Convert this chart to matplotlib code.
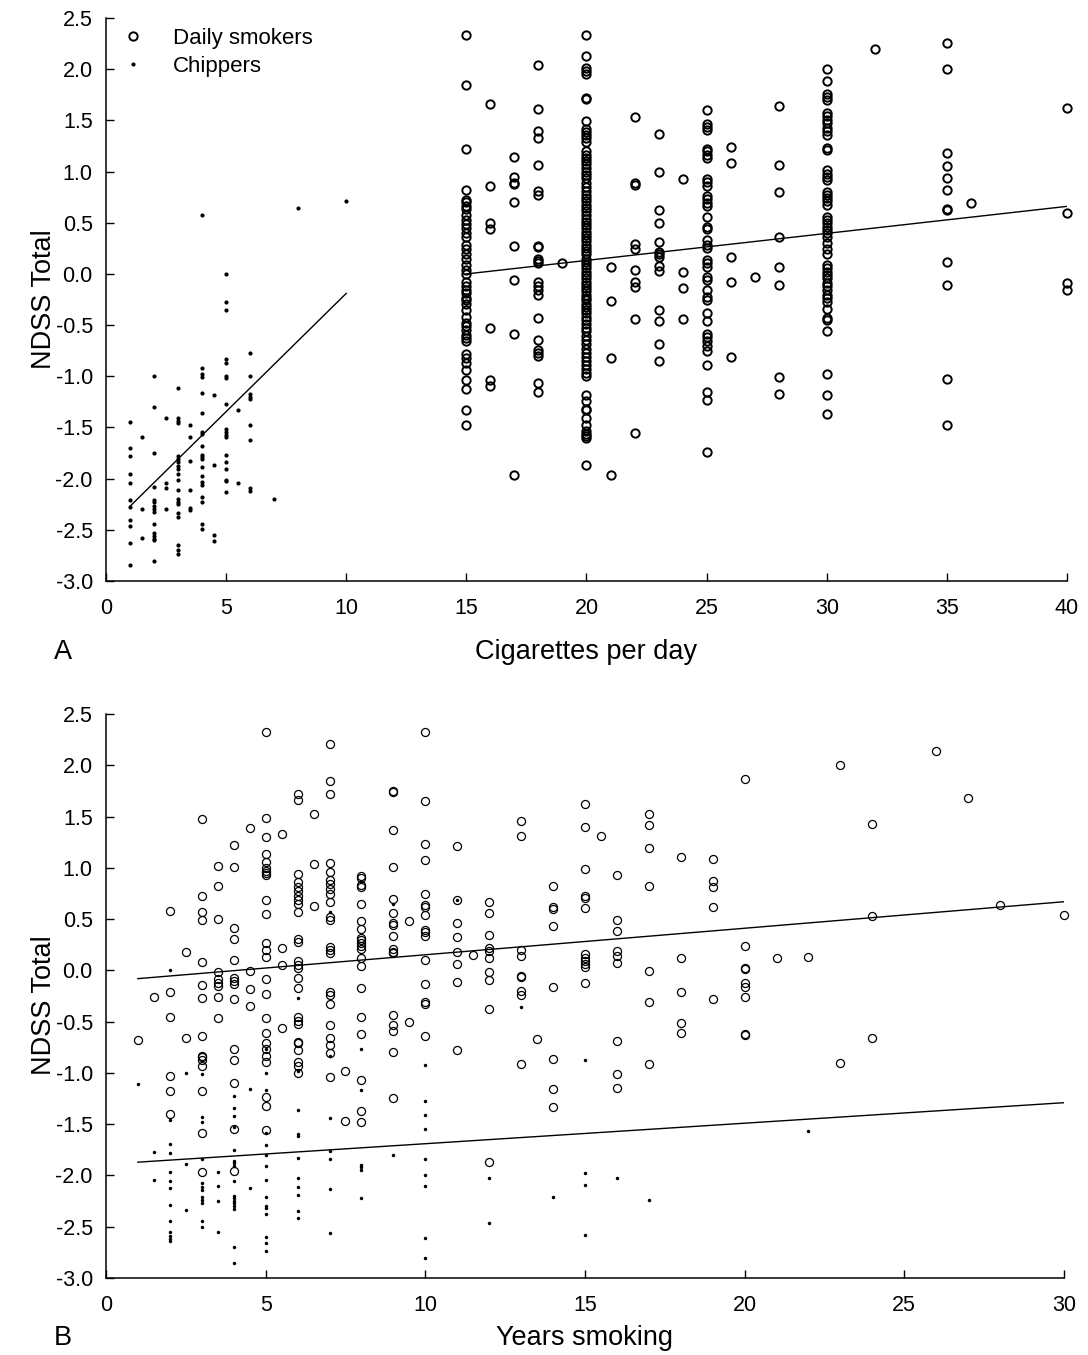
#!/usr/bin/env python
import numpy as np
import matplotlib
matplotlib.use("Agg")
import matplotlib.pyplot as plt
from matplotlib.ticker import FormatStrFormatter

plt.rcParams["font.family"] = ["Liberation Sans", "DejaVu Sans"]
plt.rcParams["axes.unicode_minus"] = False

# ---- Panel A: NDSS total vs cigarettes per day ----
a_daily_cols = [15, 16, 17, 18, 19, 20, 21, 22, 23, 24, 25, 26, 27, 28, 30, 32, 35, 36, 40]
a_daily_vals = [
    [2.33, 1.85, 1.22, 0.82, 0.72, 0.70, 0.66, 0.63, 0.58, 0.53, 0.49, 0.45, 0.40, 0.36, 0.28,
     0.24, 0.19, 0.15, 0.09, 0.04, 0.00, -0.08, -0.12, -0.16, -0.19, -0.24, -0.25, -0.29, -0.35,
     -0.42, -0.48, -0.51, -0.55, -0.60, -0.63, -0.66, -0.78, -0.82, -0.87, -0.94, -1.04, -1.12,
     -1.33, -1.48],
    [1.66, 0.86, 0.50, 0.44, -0.53, -1.04, -1.09],
    [1.14, 0.95, 0.89, 0.88, 0.70, 0.27, -0.06, -0.59, -1.96],
    [2.04, 1.61, 1.40, 1.33, 1.06, 0.81, 0.77, 0.27, 0.26, 0.15, 0.13, 0.11, -0.08, -0.12, -0.16,
     -0.21, -0.43, -0.65, -0.74, -0.77, -0.80, -1.07, -1.15],
    [0.11],
    [2.33, 2.13, 2.01, 1.98, 1.95, 1.72, 1.71, 1.49, 1.42, 1.39, 1.36, 1.33, 1.29, 1.20, 1.16,
     1.13, 1.10, 1.07, 1.03, 1.00, 0.97, 0.94, 0.89, 0.85, 0.81, 0.77, 0.74, 0.71, 0.67, 0.64,
     0.61, 0.58, 0.54, 0.51, 0.48, 0.45, 0.41, 0.38, 0.35, 0.32, 0.28, 0.25, 0.22, 0.19, 0.15,
     0.12, 0.09, 0.06, 0.02, -0.01, -0.04, -0.08, -0.11, -0.14, -0.17, -0.21, -0.24, -0.25,
     -0.29, -0.32, -0.35, -0.38, -0.42, -0.45, -0.49, -0.53, -0.56, -0.61, -0.65, -0.68, -0.73,
     -0.77, -0.81, -0.85, -0.89, -0.93, -0.97, -1.00, -1.18, -1.24, -1.32, -1.33, -1.41, -1.48,
     -1.53, -1.56, -1.58, -1.60, -1.87],
    [0.07, -0.26, -0.82, -1.96],
    [1.53, 0.89, 0.87, 0.29, 0.24, 0.04, -0.08, -0.13, -0.44, -1.55],
    [1.37, 1.00, 0.62, 0.50, 0.31, 0.21, 0.19, 0.17, 0.08, 0.03, -0.35, -0.46, -0.68, -0.85],
    [0.93, 0.02, -0.14, -0.44],
    [1.60, 1.46, 1.44, 1.41, 1.22, 1.20, 1.16, 1.13, 0.93, 0.90, 0.86, 0.76, 0.73, 0.69, 0.66,
     0.56, 0.46, 0.44, 0.33, 0.28, 0.25, 0.14, 0.11, 0.07, -0.03, -0.06, -0.16, -0.23, -0.25,
     -0.38, -0.46, -0.59, -0.62, -0.66, -0.70, -0.75, -0.89, -1.15, -1.23, -1.74],
    [1.24, 1.08, 0.17, -0.08, -0.81],
    [-0.03],
    [1.64, 1.06, 0.80, 0.36, 0.07, -0.11, -1.01, -1.17],
    [2.00, 1.88, 1.76, 1.73, 1.70, 1.57, 1.54, 1.50, 1.47, 1.43, 1.40, 1.36, 1.23, 1.21, 1.02,
     0.98, 0.95, 0.92, 0.80, 0.77, 0.74, 0.71, 0.67, 0.56, 0.53, 0.50, 0.46, 0.43, 0.40, 0.36,
     0.30, 0.24, 0.19, 0.09, 0.06, 0.02, -0.01, -0.04, -0.09, -0.12, -0.16, -0.21, -0.24, -0.27,
     -0.34, -0.43, -0.45, -0.56, -0.98, -1.18, -1.37],
    [2.20],
    [2.26, 2.00, 1.18, 1.05, 0.94, 0.82, 0.63, 0.62, 0.12, -0.11, -1.03, -1.48],
    [0.69],
    [1.62, 0.60, -0.09, -0.16],
]

a_chip_cols = [1, 1.5, 2, 2.5, 3, 3.5, 4, 4.5, 5, 5.5, 6, 7, 8, 10]
a_chip_vals = [
    [-1.45, -1.70, -1.78, -1.95, -2.04, -2.21, -2.28, -2.40, -2.46, -2.63, -2.84],
    [-1.59, -2.30, -2.58],
    [-1.00, -1.30, -1.75, -2.08, -2.21, -2.23, -2.27, -2.30, -2.33, -2.44, -2.53, -2.56, -2.59,
     -2.60, -2.80],
    [-1.41, -2.04, -2.09, -2.30],
    [-1.11, -1.41, -1.44, -1.46, -1.78, -1.81, -1.84, -1.88, -1.91, -1.95, -2.01, -2.11, -2.20,
     -2.23, -2.25, -2.34, -2.37, -2.65, -2.70, -2.74],
    [-1.48, -1.59, -1.83, -2.11, -2.29, -2.31],
    [0.58, -0.92, -0.98, -1.01, -1.16, -1.36, -1.54, -1.56, -1.68, -1.77, -1.79, -1.81, -1.89,
     -1.97, -2.03, -2.06, -2.18, -2.23, -2.44, -2.49],
    [-1.18, -1.87, -2.55, -2.61],
    [0.00, -0.27, -0.35, -0.83, -0.87, -1.00, -1.02, -1.27, -1.51, -1.54, -1.57, -1.59, -1.77,
     -1.84, -1.91, -2.01, -2.02, -2.13],
    [-1.33, -2.04],
    [-0.77, -1.00, -1.17, -1.20, -1.22, -1.48, -1.62, -2.09, -2.12],
    [-2.20],
    [0.64],
    [0.71],
]

a_fit_daily_x = [15, 40]
a_fit_daily_y = [0.00, 0.66]
a_fit_chip_x = [1, 10]
a_fit_chip_y = [-2.27, -0.19]

# ---- Panel B: NDSS total vs years smoking ----
b_daily_cols = [1, 1.5, 2, 2.5, 3, 3.5, 4, 4.5, 5, 5.5, 6, 6.5, 7, 7.5, 8, 9, 9.5, 10, 11, 11.5,
                12, 13, 13.5, 14, 15, 15.5, 16, 17, 18, 19, 20, 21, 22, 23, 24, 26, 27, 28, 30]
b_daily_vals = [
    [-0.68],
    [-0.26],
    [0.58, -0.21, -0.45, -1.03, -1.18, -1.40],
    [0.18, -0.66],
    [1.48, 0.73, 0.57, 0.49, 0.08, -0.14, -0.27, -0.64, -0.83, -0.84, -0.87, -0.93, -1.18,
     -1.59, -1.97],
    [1.02, 0.82, 0.50, -0.02, -0.08, -0.12, -0.15, -0.26, -0.46],
    [1.22, 1.01, 0.41, 0.31, 0.10, -0.07, -0.10, -0.13, -0.28, -0.77, -0.87, -1.10, -1.55, -1.96],
    [1.39, -0.01, -0.18, -0.35],
    [2.33, 1.49, 1.30, 1.14, 1.06, 1.00, 0.97, 0.95, 0.93, 0.69, 0.55, 0.27, 0.20, 0.13, -0.08,
     -0.23, -0.46, -0.61, -0.71, -0.77, -0.83, -0.89, -1.23, -1.32, -1.56],
    [1.33, 0.22, 0.05, -0.56],
    [1.72, 1.66, 0.94, 0.86, 0.81, 0.77, 0.73, 0.69, 0.65, 0.57, 0.31, 0.28, 0.09, 0.05, 0.02,
     -0.07, -0.17, -0.45, -0.49, -0.52, -0.70, -0.71, -0.78, -0.89, -0.93, -1.00],
    [1.53, 1.04, 0.63],
    [2.21, 1.85, 1.72, 1.05, 0.96, 0.88, 0.84, 0.79, 0.75, 0.67, 0.52, 0.49, 0.23, 0.20, 0.17,
     -0.21, -0.24, -0.33, -0.53, -0.66, -0.73, -0.81, -1.04],
    [-0.98, -1.47],
    [0.92, 0.90, 0.83, 0.81, 0.65, 0.48, 0.40, 0.32, 0.30, 0.27, 0.24, 0.21, 0.12, 0.04, -0.17,
     -0.45, -0.62, -1.07, -1.37, -1.48],
    [1.75, 1.74, 1.37, 1.01, 0.70, 0.56, 0.46, 0.44, 0.34, 0.21, 0.18, 0.17, -0.43, -0.53,
     -0.59, -0.80, -1.24],
    [0.48, -0.50],
    [2.33, 1.65, 1.23, 1.08, 0.75, 0.64, 0.62, 0.54, 0.39, 0.37, 0.34, 0.10, -0.13, -0.31,
     -0.33, -0.64],
    [1.21, 0.69, 0.46, 0.33, 0.18, 0.06, -0.11, -0.78],
    [0.15],
    [0.67, 0.56, 0.35, 0.22, 0.19, 0.12, -0.02, -0.09, -0.38, -1.87],
    [1.46, 1.31, 0.20, 0.14, -0.05, -0.06, -0.20, -0.24, -0.91],
    [-0.67],
    [0.82, 0.62, 0.60, 0.43, -0.16, -0.86, -1.16, -1.33],
    [1.62, 1.40, 0.99, 0.73, 0.71, 0.61, 0.16, 0.12, 0.09, 0.06, 0.03, -0.12],
    [1.31],
    [0.93, 0.49, 0.38, 0.19, 0.14, 0.07, -0.69, -1.01, -1.15],
    [1.53, 1.42, 1.19, 0.82, -0.01, -0.31, -0.91],
    [1.11, 0.12, -0.21, -0.51, -0.61],
    [1.09, 0.87, 0.81, 0.62, -0.28],
    [1.87, 0.24, 0.02, 0.01, -0.12, -0.16, -0.26, -0.62, -0.63],
    [0.12],
    [0.13],
    [2.00, -0.90],
    [1.43, 0.53, -0.66],
    [2.14],
    [1.68],
    [0.64],
    [0.54],
]

b_chip_cols = [1, 1.5, 2, 2.5, 3, 3.5, 4, 4.5, 5, 6, 7, 8, 9, 10, 11, 12, 13, 14, 15, 16, 17, 22]
b_chip_vals = [
    [-1.11],
    [-1.77, -2.04],
    [0.00, -1.46, -1.69, -1.78, -1.97, -2.05, -2.12, -2.29, -2.44, -2.55, -2.59, -2.62, -2.64],
    [-1.00, -1.89, -2.34],
    [-1.01, -1.43, -1.48, -1.84, -2.07, -2.11, -2.14, -2.21, -2.24, -2.27, -2.44, -2.50],
    [-1.97, -2.10, -2.25, -2.55],
    [-1.22, -1.34, -1.42, -1.53, -1.75, -1.86, -1.88, -1.91, -2.05, -2.20, -2.22, -2.25, -2.27,
     -2.30, -2.33, -2.70, -2.85],
    [-1.16, -2.12],
    [-0.77, -1.00, -1.17, -1.59, -1.70, -1.80, -1.91, -2.04, -2.21, -2.30, -2.32, -2.38, -2.60,
     -2.66, -2.74],
    [-0.27, -0.98, -1.36, -1.60, -1.61, -1.83, -2.02, -2.11, -2.19, -2.35, -2.41],
    [0.57, -0.83, -1.44, -1.76, -1.84, -2.13, -2.56],
    [-0.77, -1.17, -1.90, -1.92, -1.95, -2.22],
    [0.65, -1.80],
    [-0.92, -1.27, -1.41, -1.55, -1.84, -2.00, -2.10, -2.61, -2.80],
    [0.69],
    [-2.02, -2.46],
    [-0.36],
    [-2.21],
    [-0.87, -1.98, -2.09, -2.58],
    [-2.02],
    [-2.24],
    [-1.57],
]

b_fit_daily_x = [1, 30]
b_fit_daily_y = [-0.08, 0.67]
b_fit_chip_x = [1, 30]
b_fit_chip_y = [-1.87, -1.29]


def expand(cols, vals):
    xs, ys = [], []
    for c, v in zip(cols, vals):
        xs += [c] * len(v)
        ys += v
    return np.array(xs), np.array(ys)


def style_axes(ax, xmax, xstep):
    ax.set_xlim(0, xmax)
    ax.set_ylim(-3.0, 2.5)
    ax.set_xticks(np.arange(0, xmax + 1, xstep))
    ax.set_yticks(np.arange(-3.0, 2.51, 0.5))
    ax.yaxis.set_major_formatter(FormatStrFormatter("%.1f"))
    ax.spines["top"].set_visible(False)
    ax.spines["right"].set_visible(False)
    for s in ("left", "bottom"):
        ax.spines[s].set_linewidth(1.1)
    ax.tick_params(direction="in", length=6, width=1.0, labelsize=15.5)
    ax.tick_params(axis="x", pad=12)
    ax.tick_params(axis="y", pad=9.5)


fig = plt.figure(figsize=(10.88, 13.55), dpi=100)
ax_a = fig.add_axes([0.0974, 0.5712, 0.8833, 0.4155])
ax_b = fig.add_axes([0.0974, 0.0568, 0.8805, 0.4162])

# panel A
x, y = expand(a_daily_cols, a_daily_vals)
ax_a.plot(x, y, "o", ls="none", mfc="none", mec="black", ms=6.0, mew=1.4,
          clip_on=False, label="Daily smokers")
x, y = expand(a_chip_cols, a_chip_vals)
ax_a.plot(x, y, "o", ls="none", mfc="black", mec="black", ms=3.0, mew=0,
          clip_on=False, label="Chippers")
ax_a.plot(a_fit_daily_x, a_fit_daily_y, color="black", lw=1.0)
ax_a.plot(a_fit_chip_x, a_fit_chip_y, color="black", lw=1.0)
style_axes(ax_a, 40, 5)
ax_a.legend(loc="upper left", bbox_to_anchor=(-0.004, 0.998), borderaxespad=0,
            frameon=False, fontsize=16, numpoints=1, handletextpad=0.8,
            labelspacing=0.3)
ax_a.set_xlabel("Cigarettes per day", fontsize=19.5, va="center")
ax_a.xaxis.set_label_coords(0.5, -0.126)
ax_a.set_ylabel("NDSS Total", fontsize=19.5, va="center", ha="center")
ax_a.yaxis.set_label_coords(-0.0646, 0.5)
fig.text(63 / 1088, 1 - 652 / 1355, "A", fontsize=19.5, ha="center", va="center")

# panel B
x, y = expand(b_daily_cols, b_daily_vals)
ax_b.plot(x, y, "o", ls="none", mfc="none", mec="black", ms=5.8, mew=0.9,
          clip_on=False)
x, y = expand(b_chip_cols, b_chip_vals)
ax_b.plot(x, y, "o", ls="none", mfc="black", mec="black", ms=2.5, mew=0,
          clip_on=False)
ax_b.plot(b_fit_daily_x, b_fit_daily_y, color="black", lw=1.0)
ax_b.plot(b_fit_chip_x, b_fit_chip_y, color="black", lw=1.0)
style_axes(ax_b, 30, 5)
ax_b.set_xlabel("Years smoking", fontsize=19.5, va="center")
ax_b.xaxis.set_label_coords(0.5, -0.106)
ax_b.set_ylabel("NDSS Total", fontsize=19.5, va="center", ha="center")
ax_b.yaxis.set_label_coords(-0.0646, 0.484)
fig.text(63 / 1088, 1 - 1338 / 1355, "B", fontsize=19.5, ha="center", va="center")

fig.savefig("out.png", dpi=100)
